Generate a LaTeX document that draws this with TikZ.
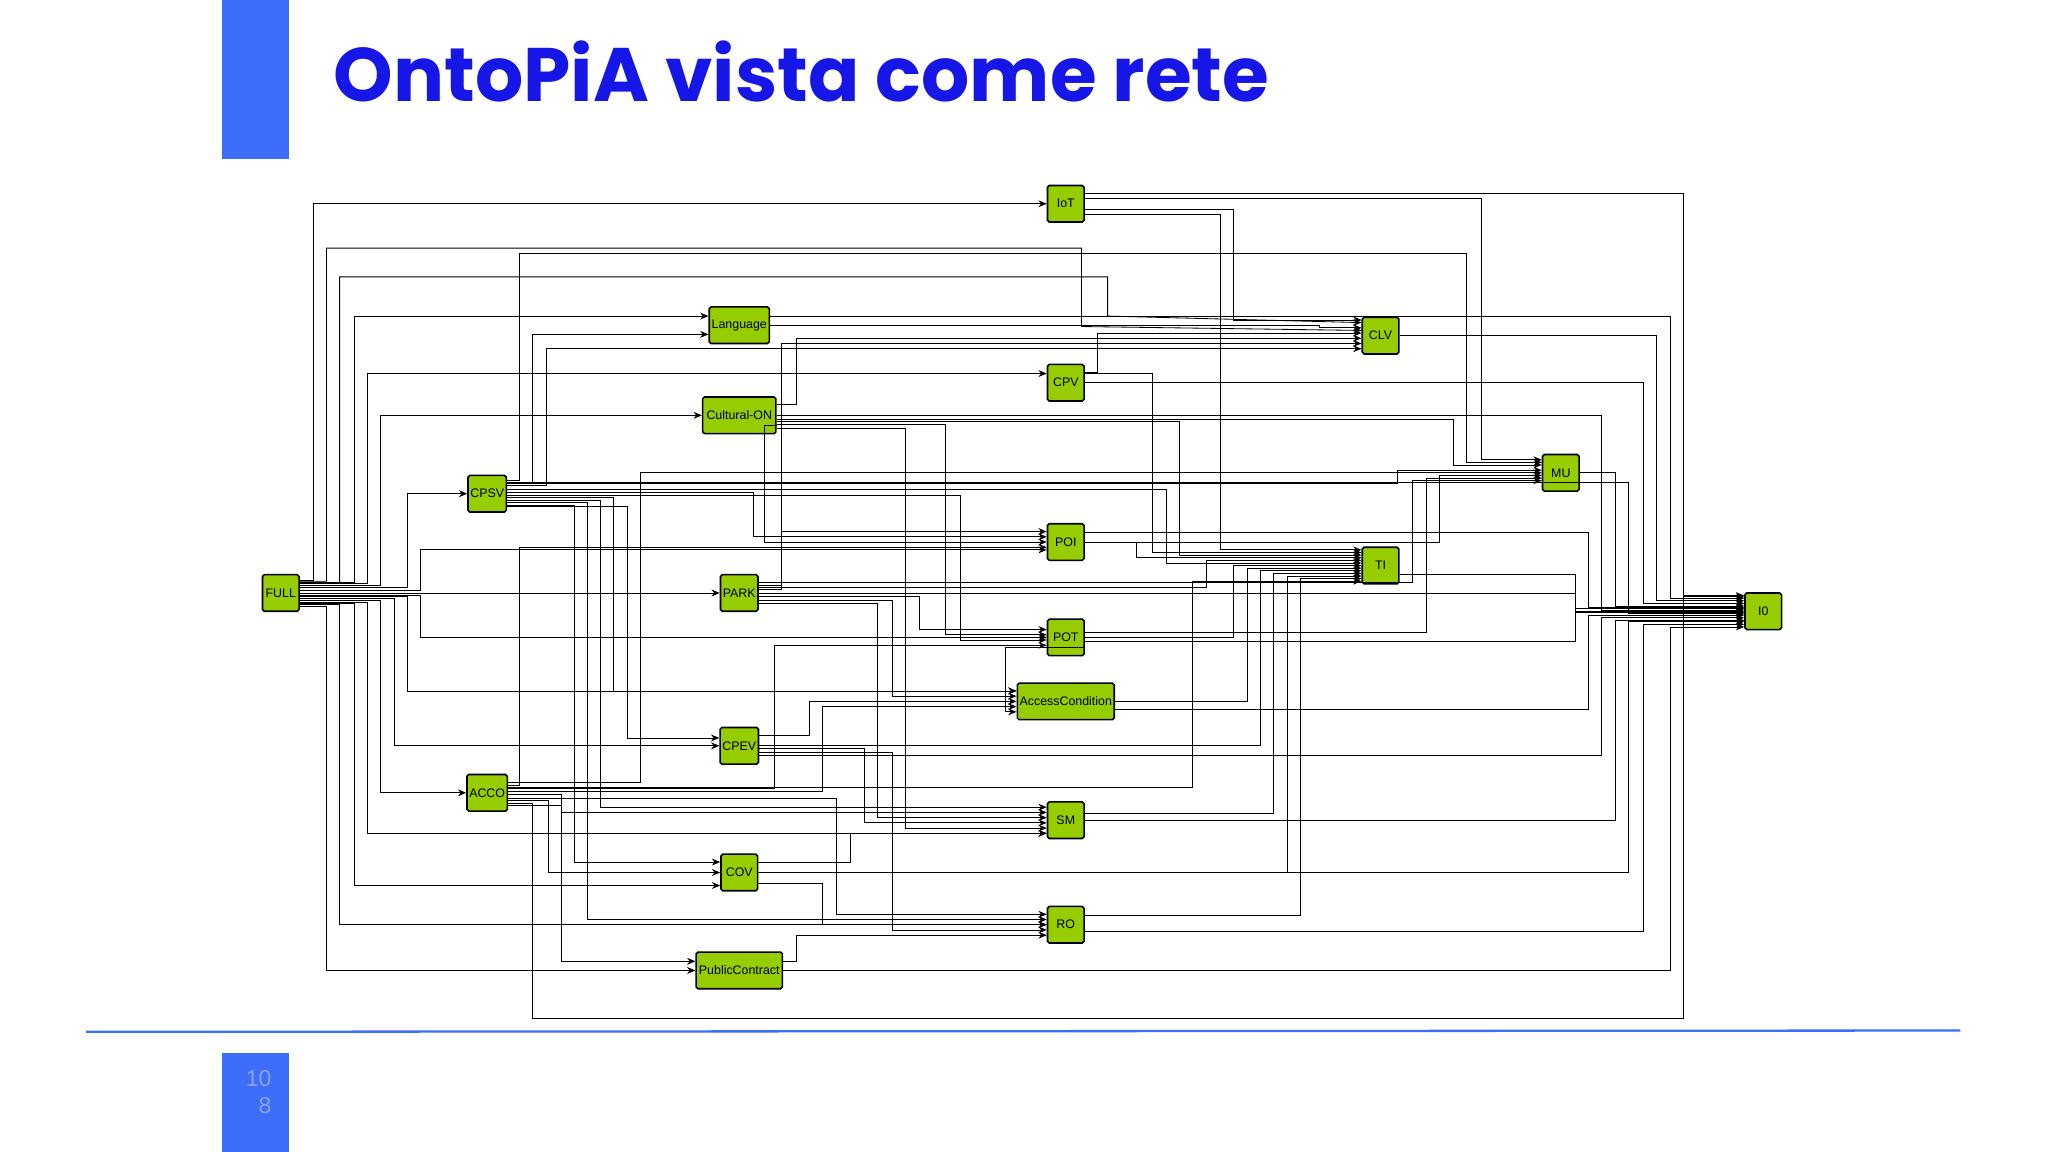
\documentclass[tikz,border=0pt]{standalone}
\usepackage{fontspec}
\setsansfont{Liberation Sans}
\newfontfamily\titlefont{Poppins}
\usetikzlibrary{calc,arrows.meta}
\definecolor{tblue}{RGB}{22,22,230}
\definecolor{bblue}{RGB}{60,110,250}
\definecolor{ngreen}{RGB}{150,205,0}
\definecolor{pnum}{RGB}{140,160,235}
\tikzset{
 nd/.style={draw=black,fill=ngreen,rounded corners=0.4pt,line width=0.35pt,minimum height=0.28cm,inner sep=0.5pt,font=\sffamily\fontsize{2.7pt}{3pt}\selectfont},
 conn/.style={draw=black,line width=0.18pt,-{Stealth[length=1.8pt,width=1.5pt]}},
}
\newcommand\E[5]{\coordinate (s) at ($(#1.east)+(0,#4)$);\coordinate (t) at ($(#2.west)+(0,#5)$);\coordinate (L) at (#3,0);\draw[conn] (s) -- (s -| L) |- (t);}
\begin{document}
\begin{tikzpicture}[x=0.01cm,y=-0.01cm]
\useasboundingbox (0,0) rectangle (1568,882);
\fill[white] (0,0) rectangle (1568,882);
\fill[bblue] (170,0) rectangle (221,122);
\fill[bblue] (170,806) rectangle (221,882);
\draw[bblue,line width=0.5pt] (66,790) -- (1501,789);
\node[anchor=west,text=tblue,font=\titlefont\bfseries\fontsize{16.5pt}{18pt}\selectfont,inner sep=0] (title) at (255,55) {OntoPiA vista come rete};
\node[text=pnum,font=\sffamily\fontsize{5pt}{6pt}\selectfont,align=right,inner sep=0] (pg) at (198,836) {10\\\ 8};
% nodes
\node[nd,minimum width=0.28cm] (iot) at (816,156) {IoT};
\node[nd,minimum width=0.46cm] (lang) at (566,249) {Language};
\node[nd,minimum width=0.28cm] (clv) at (1057,257) {CLV};
\node[nd,minimum width=0.28cm] (cpv) at (816,293) {CPV};
\node[nd,minimum width=0.56cm] (cul) at (566,318) {Cultural-ON};
\node[nd,minimum width=0.28cm] (mu) at (1195,362) {MU};
\node[nd,minimum width=0.28cm] (cpsv) at (373,378) {CPSV};
\node[nd,minimum width=0.28cm] (poi) at (816,415) {POI};
\node[nd,minimum width=0.28cm] (ti) at (1057,433) {TI};
\node[nd,minimum width=0.28cm] (full) at (215,454) {FULL};
\node[nd,minimum width=0.28cm] (park) at (566,454) {PARK};
\node[nd,minimum width=0.28cm] (io) at (1350,468) {I0};
\node[nd,minimum width=0.28cm] (pot) at (816,488) {POT};
\node[nd,minimum width=0.74cm] (ac) at (816,537) {AccessCondition};
\node[nd,minimum width=0.28cm] (cpev) at (566,571) {CPEV};
\node[nd,minimum width=0.28cm] (acco) at (373,607) {ACCO};
\node[nd,minimum width=0.28cm] (sm) at (816,628) {SM};
\node[nd,minimum width=0.28cm] (cov) at (566,668) {COV};
\node[nd,minimum width=0.28cm] (ro) at (816,708) {RO};
\node[nd,minimum width=0.66cm] (pc) at (566,743) {PublicContract};
% FULL out
\E{full}{iot}{240}{-10}{0}
\E{full}{pc}{250}{10}{0}
\E{full}{ro}{260}{9}{0}
\E{full}{lang}{271}{-8}{-7}
\E{full}{cov}{271}{8}{10}
\E{full}{cpv}{281}{-7}{-7}
\E{full}{sm}{281}{7}{10}
\E{full}{cul}{291}{-6}{0}
\E{full}{acco}{291}{6}{0}
\E{full}{cpsv}{312}{-4}{0}
\E{full}{cpev}{302}{4}{0}
\E{full}{pot}{322}{2}{0}
\E{full}{park}{322}{0}{0}
\E{full}{ac}{312}{3}{-8}
\E{full}{poi}{322}{-2}{6}
\draw[conn] ($(full.east)+(0,-9)$) -| (250,190) -| (828,250) -- ($(clv.west)+(0,-4)$);
\draw[conn] ($(full.east)+(0,-8)$) -| (260,212) -| (848,242) -- ($(clv.west)+(0,-10)$);
% to I0
\E{iot}{io}{1289}{-8}{-12}
\E{lang}{io}{1279}{-7}{-10}
\E{clv}{io}{1268}{0}{-8}
\E{cpv}{io}{1258}{0}{-6}
\E{mu}{io}{1237}{0}{-4}
\E{poi}{io}{1216}{-7}{-3}
\E{ti}{io}{1206}{7}{-2}
\E{park}{io}{1206}{0}{0}
\E{pot}{io}{1206}{3}{1}
\E{ac}{io}{1216}{6}{3}
\E{cpev}{io}{1226}{7}{5}
\E{sm}{io}{1237}{0}{7}
\E{cov}{io}{1247}{0}{8}
\E{ro}{io}{1258}{5}{10}
\E{pc}{io}{1279}{0}{12}
\E{cul}{io}{1226}{0}{-1}
\draw[conn] ($(acco.east)+(0,8)$) -| (408,780) -| (1289,400) |- ($(io.west)+(0,-11)$);
\E{cpsv}{io}{1247}{-9}{2}
% to TI
\E{iot}{ti}{934}{8}{-12}
\E{cpv}{ti}{882}{-7}{-10}
\E{cul}{ti}{903}{5}{-8}
\E{poi}{ti}{870}{0}{-6}
\E{park}{ti}{924}{-4}{-4}
\E{cpsv}{ti}{893}{-3}{-2}
\E{pot}{ti}{944}{0}{0}
\E{ac}{ti}{955}{0}{2}
\E{cpev}{ti}{965}{0}{4}
\E{sm}{ti}{975}{-5}{6}
\E{cov}{ti}{986}{0}{8}
\E{ro}{ti}{996}{-7}{10}
\E{acco}{ti}{913}{-4}{12}
% to CLV
\E{iot}{clv}{944}{4}{-12}
\E{lang}{clv}{1010}{0}{-6}
\E{cpv}{clv}{840}{-8}{-2}
\E{cul}{clv}{610}{-8}{2}
\E{park}{clv}{598}{-6}{6}
\E{cpsv}{clv}{418}{-6}{10}
% to MU
\E{iot}{mu}{1134}{-4}{-10}
\E{cul}{mu}{1113}{3}{-6}
\draw[conn] ($(cpsv.east)+(0,-10)$) -| (398,194) -| (1123,354) -- ($(mu.west)+(0,-8)$);
\E{poi}{mu}{1102}{0}{2}
\E{pot}{mu}{1092}{-4}{4}
\E{park}{mu}{1081}{-8}{6}
\E{cpsv}{mu}{1070}{-8}{-2}
\E{acco}{mu}{490}{-8}{0}
% to POI
\E{park}{poi}{598}{-3}{-8}
\E{cpsv}{poi}{577}{-1}{-4}
\E{cul}{poi}{585}{8}{0}
\E{acco}{poi}{398}{-6}{4}
% to POT
\E{park}{pot}{704}{3}{-6}
\E{cul}{pot}{724}{7}{-2}
\E{cpsv}{pot}{735}{1}{2}
\E{acco}{pot}{593}{-3}{6}
% AccessCondition
\E{cpsv}{ac}{470}{3}{-8}
\E{park}{ac}{683}{6}{-4}
\E{cpev}{ac}{620}{-8}{0}
\E{acco}{ac}{630}{-1}{4}
\E{pot}{ac}{770}{8}{8}
% SM
\E{cpsv}{sm}{460}{5}{-10}
\E{acco}{sm}{430}{1}{-6}
\E{park}{sm}{672}{8}{-2}
\E{cpev}{sm}{662}{2}{2}
\E{cul}{sm}{693}{10}{6}
\E{cov}{sm}{651}{-8}{10}
% RO
\E{acco}{ro}{640}{4}{-8}
\E{cpsv}{ro}{450}{7}{-4}
\E{cov}{ro}{630}{8}{0}
\E{cpev}{ro}{683}{5}{4}
\E{pc}{ro}{610}{-7}{8}
% COV / CPEV / Language
\E{cpsv}{cov}{440}{9}{-8}
\E{acco}{cov}{420}{6}{0}
\E{cpsv}{cpev}{480}{10}{-6}
\E{cpsv}{lang}{408}{-8}{7}
\E{acco}{pc}{430}{10}{-7}
\end{tikzpicture}
\end{document}
